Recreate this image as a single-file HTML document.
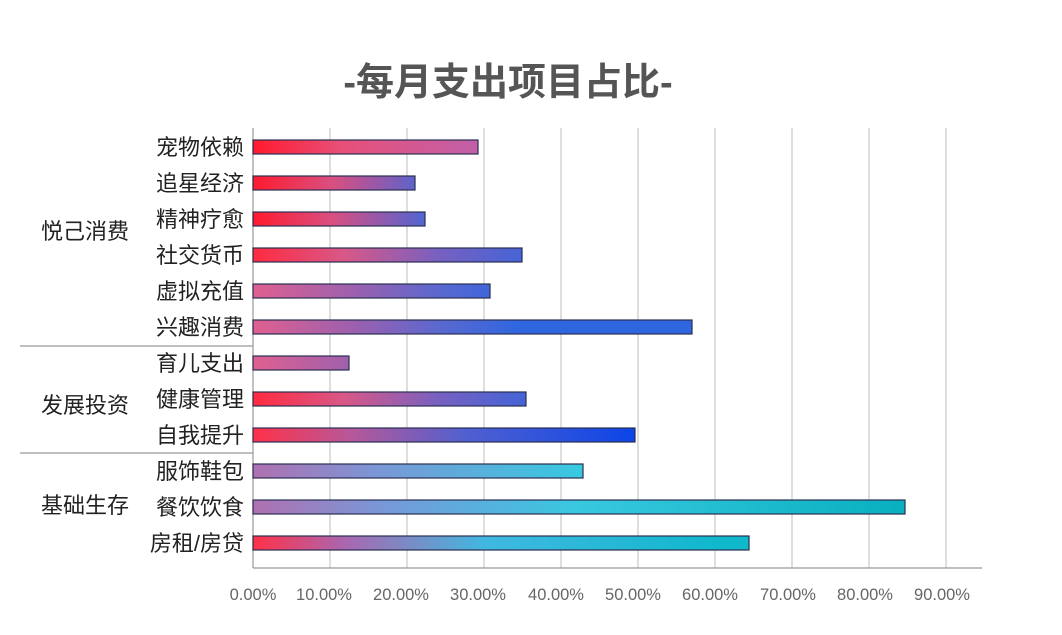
<!DOCTYPE html>
<html><head><meta charset="utf-8"><style>
body{margin:0;background:#fff;}
svg text{font-family:"Liberation Sans","Noto Sans CJK SC",sans-serif;}
</style></head><body>
<svg width="1062" height="630" xmlns="http://www.w3.org/2000/svg">
<defs>
<linearGradient id="g1" x1="0" x2="1"><stop offset="0" stop-color="#ff1a2e"/><stop offset="0.4" stop-color="#e8507a"/><stop offset="1" stop-color="#c060a8"/></linearGradient>
<linearGradient id="g2" gradientUnits="userSpaceOnUse" x1="253" x2="430"><stop offset="0" stop-color="#ff1a2e"/><stop offset="0.45" stop-color="#d85080"/><stop offset="0.7" stop-color="#9858a8"/><stop offset="1" stop-color="#4868d8"/></linearGradient>
<linearGradient id="g3" gradientUnits="userSpaceOnUse" x1="253" x2="560"><stop offset="0" stop-color="#ff2a40"/><stop offset="0.3" stop-color="#d85888"/><stop offset="0.6" stop-color="#7860c0"/><stop offset="1" stop-color="#2f66e0"/></linearGradient>
<linearGradient id="g4" gradientUnits="userSpaceOnUse" x1="253" x2="520"><stop offset="0" stop-color="#e06090"/><stop offset="0.4" stop-color="#9860b0"/><stop offset="0.7" stop-color="#5a68d0"/><stop offset="1" stop-color="#2f66e0"/></linearGradient>
<linearGradient id="g5" gradientUnits="userSpaceOnUse" x1="253" x2="640"><stop offset="0" stop-color="#ff3048"/><stop offset="0.25" stop-color="#b85898"/><stop offset="0.55" stop-color="#5060d0"/><stop offset="1" stop-color="#0a44e8"/></linearGradient>
<linearGradient id="g6" gradientUnits="userSpaceOnUse" x1="253" x2="720"><stop offset="0" stop-color="#ff3048"/><stop offset="0.2" stop-color="#a868b0"/><stop offset="0.5" stop-color="#40b8e0"/><stop offset="1" stop-color="#10b8cc"/></linearGradient>
<linearGradient id="g7" gradientUnits="userSpaceOnUse" x1="253" x2="900"><stop offset="0" stop-color="#b070b0"/><stop offset="0.2" stop-color="#7898d8"/><stop offset="0.5" stop-color="#38c8e0"/><stop offset="1" stop-color="#08b0c0"/></linearGradient>
</defs>
<text x="508" y="95" text-anchor="middle" font-size="38" font-weight="bold" fill="#555">-每月支出项目占比-</text>
<g stroke="#c8c8c8" stroke-width="1.2">
<line x1="330" y1="128" x2="330" y2="568"/><line x1="407" y1="128" x2="407" y2="568"/><line x1="484" y1="128" x2="484" y2="568"/><line x1="561" y1="128" x2="561" y2="568"/><line x1="638" y1="128" x2="638" y2="568"/><line x1="715" y1="128" x2="715" y2="568"/><line x1="792" y1="128" x2="792" y2="568"/><line x1="869" y1="128" x2="869" y2="568"/><line x1="946" y1="128" x2="946" y2="568"/>
</g>
<g stroke="#999" stroke-width="1.2">
<line x1="253" y1="128" x2="253" y2="568"/><line x1="253" y1="568" x2="982" y2="568"/>
<line x1="20" y1="346" x2="253" y2="346"/><line x1="20" y1="453" x2="253" y2="453"/>
</g>
<g stroke="#2a3050" stroke-width="1.2">
<rect x="253" y="140" width="225" height="14" fill="url(#g1)"/>
<rect x="253" y="176" width="162" height="14" fill="url(#g2)"/>
<rect x="253" y="212" width="172" height="14" fill="url(#g2)"/>
<rect x="253" y="248" width="269" height="14" fill="url(#g3)"/>
<rect x="253" y="284" width="237" height="14" fill="url(#g4)"/>
<rect x="253" y="320" width="439" height="14" fill="url(#g4)"/>
<rect x="253" y="356" width="96" height="14" fill="url(#g4)"/>
<rect x="253" y="392" width="273" height="14" fill="url(#g3)"/>
<rect x="253" y="428" width="382" height="14" fill="url(#g5)"/>
<rect x="253" y="464" width="330" height="14" fill="url(#g7)"/>
<rect x="253" y="500" width="652" height="14" fill="url(#g7)"/>
<rect x="253" y="536" width="496" height="14" fill="url(#g6)"/>
</g>
<g font-size="22" fill="#222" text-anchor="end">
<text x="244" y="155">宠物依赖</text><text x="244" y="191">追星经济</text><text x="244" y="227">精神疗愈</text><text x="244" y="263">社交货币</text><text x="244" y="299">虚拟充值</text><text x="244" y="335">兴趣消费</text><text x="244" y="371">育儿支出</text><text x="244" y="407">健康管理</text><text x="244" y="443">自我提升</text><text x="244" y="479">服饰鞋包</text><text x="244" y="515">餐饮饮食</text><text x="244" y="551">房租/房贷</text>
</g>
<g font-size="22" fill="#222" text-anchor="middle">
<text x="85" y="239">悦己消费</text><text x="85" y="413">发展投资</text><text x="85" y="513">基础生存</text>
</g>
<g font-size="16.5" fill="#666" text-anchor="middle">
<text x="253" y="600">0.00%</text><text x="324" y="600">10.00%</text><text x="401" y="600">20.00%</text><text x="478" y="600">30.00%</text><text x="556" y="600">40.00%</text><text x="633" y="600">50.00%</text><text x="710" y="600">60.00%</text><text x="788" y="600">70.00%</text><text x="865" y="600">80.00%</text><text x="942" y="600">90.00%</text>
</g>
</svg>
</body></html>
